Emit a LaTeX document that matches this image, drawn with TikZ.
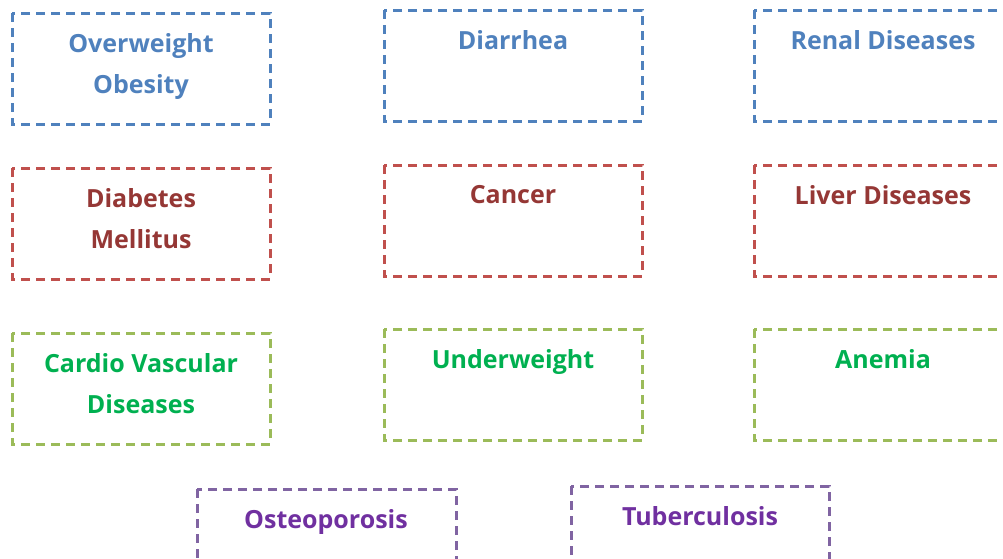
\documentclass[tikz,border=0pt]{standalone}
\usepackage{fontspec}
\setmainfont{Open Sans}
\definecolor{bluebox}{HTML}{4F81BD}
\definecolor{redbox}{HTML}{C0504D}
\definecolor{redtext}{HTML}{953735}
\definecolor{greenbox}{HTML}{9BBB59}
\definecolor{greentext}{HTML}{00B050}
\definecolor{purplebox}{HTML}{8064A2}
\definecolor{purpletext}{HTML}{7030A0}
\tikzset{
  dbox/.style={line width=3pt,dash pattern=on 9pt off 6pt},
  lbl/.style={font=\fontsize{25}{41}\selectfont\bfseries,align=center,anchor=north}
}
\begin{document}
\begin{tikzpicture}[x=1pt,y=-1pt]
\useasboundingbox (0,0) rectangle (1003,558);
\draw[dbox,bluebox] (12,13) rectangle (270,124);
\draw (141,30) node[lbl,bluebox] (obes) {Overweight\\Obesity};
\draw[dbox,bluebox] (384,10) rectangle (642,121);
\draw (513,27) node[lbl,bluebox] (diar) {Diarrhea};
\draw[dbox,bluebox] (754,10) rectangle (1012,121);
\draw (883,27) node[lbl,bluebox] (renal) {Renal Diseases};
\draw[dbox,redbox] (12,168) rectangle (270,279);
\draw (141,185) node[lbl,redtext] (diab) {Diabetes\\Mellitus};
\draw[dbox,redbox] (384,165) rectangle (642,276);
\draw (513,182) node[lbl,redtext] (canc) {Cancer};
\draw[dbox,redbox] (754,165) rectangle (1012,276);
\draw (883,182) node[lbl,redtext] (liver) {Liver Diseases};
\draw[dbox,greenbox] (12,333) rectangle (270,444);
\draw (141,350) node[lbl,greentext] (cvd) {Cardio Vascular\\Diseases};
\draw[dbox,greenbox] (384,329) rectangle (642,440);
\draw (513,346) node[lbl,greentext] (under) {Underweight};
\draw[dbox,greenbox] (754,329) rectangle (1012,440);
\draw (883,346) node[lbl,greentext] (anem) {Anemia};
\draw[dbox,purplebox] (197,489) rectangle (456,600);
\draw (326,506) node[lbl,purpletext] (osteo) {Osteoporosis};
\draw[dbox,purplebox] (571,486) rectangle (829,597);
\draw (700,503) node[lbl,purpletext] (tub) {Tuberculosis};
\end{tikzpicture}
\end{document}
